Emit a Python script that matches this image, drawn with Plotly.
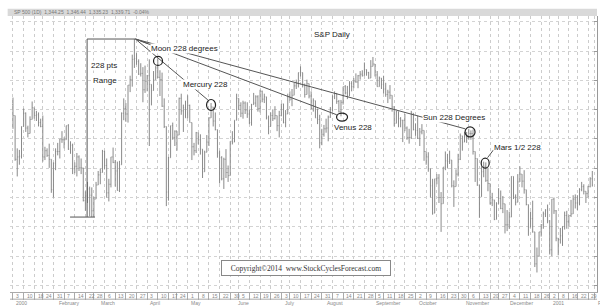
import pandas as pd
import plotly.graph_objects as go

# ---------------- data (S&P 500 daily, Jan 2000 - Jan 2001) ----------------
holidays = ["2000-01-17", "2000-02-21", "2000-04-21", "2000-05-29", "2000-07-04",
            "2000-09-04", "2000-11-23", "2000-12-25", "2001-01-01", "2001-01-15"]
dates = [d for d in pd.bdate_range("2000-01-03", "2001-01-31")
         if d.strftime("%Y-%m-%d") not in holidays]

open_ = [
    1469,1455,1399,1402,1403,1441,1458,1439,1432,1450,1465,1455,1456,1446,1441,1402,1410,1404,1399,1360,
    1394,1409,1409,1425,1424,1424,1442,1412,1417,1387,1390,1402,1388,1388,1346,1352,1361,1353,1333,1348,
    1366,1379,1382,1409,1391,1356,1367,1402,1395,1384,1359,1392,1458,1464,1457,1494,1501,1527,1528,1524,1508,1509,1488,
    1499,1506,1495,1487,1501,1516,1504,1501,1467,1441,1357,1401,1442,1427,1435,1430,1477,1461,1465,
    1452,1468,1446,1415,1410,1433,1424,1412,1383,1408,1421,1452,1466,1448,1437,1407,1401,1374,1399,1382,1378,1422,
    1421,1449,1477,1468,1458,1471,1462,1457,1446,1469,1471,1479,1464,1486,1476,1479,1452,1441,1455,1451,1455,1442,
    1455,1470,1446,1457,1479,1476,1481,1493,1496,1510,1510,1494,1482,1496,1480,1464,1474,1452,1450,1420,
    1431,1438,1439,1453,1463,1479,1483,1473,1460,1472,1492,1484,1480,1496,1492,1499,1498,1506,1508,1506,1514,1510,1503,
    1518,1521,1507,1492,1503,1495,1489,1482,1485,1481,1466,1445,1460,1451,1449,1449,1439,1427,1427,1458,
    1437,1436,1426,1434,1436,1409,1402,1387,1365,1330,1374,1375,1350,1342,1389,1397,1396,1398,1365,1364,1380,1399,
    1429,1421,1428,1427,1432,1432,1409,1400,1366,1351,1383,1390,1372,1368,1343,1347,1322,1342,1349,1336,1342,
    1315,1315,1325,1377,1351,1344,1370,1380,1371,1360,1341,1312,1323,1306,1265,1275,1306,1315,1329,1334,
    1320,1283,1348,1333,1298,1296,1301,1313,1327,1319,1327,1329,1348,1343,1343,1360,1364,1358,1355,1364,1374,
]
high = [
    1478,1455,1413,1411,1441,1464,1459,1442,1454,1473,1465,1461,1459,1451,1455,1415,1413,1419,1399,1395,
    1413,1420,1425,1435,1427,1442,1444,1422,1419,1395,1407,1404,1400,1388,1358,1370,1364,1363,1351,1370,
    1384,1387,1411,1410,1400,1374,1402,1414,1398,1396,1397,1459,1477,1471,1494,1506,1533,1553,1535,1527,1522,1517,1519,
    1507,1527,1495,1512,1519,1528,1513,1510,1477,1441,1402,1442,1446,1436,1435,1478,1483,1469,1474,
    1481,1469,1446,1420,1434,1433,1431,1412,1410,1430,1453,1471,1466,1459,1437,1410,1403,1401,1412,1391,1422,1435,
    1449,1483,1477,1472,1474,1473,1472,1463,1470,1484,1481,1481,1488,1487,1483,1479,1455,1459,1463,1467,1455,1461,
    1470,1470,1462,1483,1486,1489,1497,1501,1510,1518,1510,1496,1501,1496,1486,1477,1474,1464,1456,1438,
    1443,1451,1455,1466,1481,1486,1484,1475,1475,1492,1494,1493,1499,1499,1503,1509,1507,1512,1513,1523,1514,1511,1526,
    1530,1521,1512,1505,1503,1506,1497,1488,1494,1481,1467,1461,1460,1453,1449,1457,1441,1438,1461,1458,
    1445,1455,1439,1444,1436,1409,1408,1387,1374,1374,1380,1380,1357,1389,1409,1406,1410,1398,1372,1386,1406,1432,
    1429,1434,1434,1438,1436,1437,1409,1400,1366,1390,1396,1395,1388,1368,1356,1347,1344,1362,1359,1352,1342,
    1334,1332,1377,1377,1354,1380,1390,1380,1385,1360,1341,1332,1346,1306,1286,1306,1316,1332,1335,1341,
    1321,1348,1350,1334,1298,1311,1313,1332,1333,1327,1347,1353,1354,1353,1362,1370,1367,1358,1365,1376,1384,
]
low = [
    1438,1397,1377,1392,1400,1441,1434,1427,1432,1450,1451,1448,1441,1440,1396,1398,1402,1388,1356,1350,
    1385,1404,1400,1420,1413,1424,1411,1406,1380,1381,1377,1384,1380,1345,1333,1343,1326,1325,1325,1348,
    1366,1367,1382,1386,1350,1345,1363,1394,1364,1359,1357,1392,1449,1447,1446,1485,1492,1516,1520,1507,1505,1472,1484,
    1486,1416,1468,1487,1501,1503,1480,1466,1439,1339,1346,1401,1424,1416,1410,1430,1456,1434,1452,
    1452,1446,1398,1404,1407,1418,1405,1375,1383,1408,1416,1452,1441,1436,1401,1368,1372,1361,1375,1370,1378,1418,
    1421,1449,1462,1453,1451,1457,1452,1444,1442,1469,1466,1460,1459,1472,1471,1450,1431,1441,1448,1450,1435,1427,
    1454,1445,1440,1457,1474,1467,1481,1489,1491,1505,1491,1478,1482,1477,1463,1460,1452,1444,1413,1417,
    1428,1433,1422,1452,1460,1476,1470,1459,1454,1469,1482,1476,1480,1486,1490,1497,1490,1501,1505,1506,1506,1502,1503,
    1518,1505,1492,1492,1489,1483,1479,1471,1476,1460,1441,1445,1440,1440,1421,1435,1424,1419,1425,1436,
    1429,1425,1416,1431,1397,1392,1383,1350,1328,1330,1367,1343,1306,1342,1385,1388,1393,1363,1338,1364,1377,1398,
    1410,1421,1420,1424,1424,1405,1370,1365,1324,1351,1376,1370,1358,1341,1339,1321,1322,1342,1335,1330,1304,
    1307,1310,1325,1348,1340,1344,1370,1363,1355,1340,1301,1312,1305,1261,1254,1275,1300,1310,1325,1317,
    1277,1275,1329,1294,1276,1291,1288,1309,1310,1313,1325,1329,1336,1334,1340,1358,1354,1343,1350,1363,1364,
]
close = [
    1455,1399,1402,1403,1441,1458,1439,1432,1450,1465,1455,1456,1446,1441,1402,1410,1404,1399,1360,1394,
    1409,1409,1425,1424,1424,1442,1412,1417,1387,1390,1402,1388,1388,1346,1352,1361,1353,1333,1348,1366,
    1379,1382,1409,1391,1356,1367,1402,1395,1384,1359,1392,1458,1464,1457,1494,1501,1527,1528,1524,1508,1509,1488,1499,
    1506,1495,1487,1501,1516,1504,1501,1467,1441,1357,1401,1442,1427,1435,1430,1477,1461,1465,1452,
    1468,1446,1415,1410,1433,1424,1412,1383,1408,1421,1452,1466,1448,1437,1407,1401,1374,1399,1382,1378,1422,1421,
    1449,1477,1468,1458,1471,1462,1457,1446,1469,1471,1479,1464,1486,1476,1479,1452,1441,1455,1451,1455,1442,1455,
    1470,1446,1457,1479,1476,1481,1493,1496,1510,1510,1494,1482,1496,1480,1464,1474,1452,1450,1420,1431,
    1438,1439,1453,1463,1479,1483,1473,1460,1472,1492,1484,1480,1496,1492,1499,1498,1506,1508,1506,1514,1510,1503,1518,
    1521,1507,1492,1503,1495,1489,1482,1485,1481,1466,1445,1460,1451,1449,1449,1439,1427,1427,1458,1437,
    1436,1426,1434,1436,1409,1402,1387,1365,1330,1374,1375,1350,1342,1389,1397,1396,1398,1365,1364,1380,1399,1429,
    1421,1428,1427,1432,1432,1409,1400,1366,1351,1383,1390,1372,1368,1343,1347,1322,1342,1349,1336,1342,1315,
    1315,1325,1377,1351,1344,1370,1380,1371,1360,1341,1312,1323,1306,1265,1275,1306,1315,1329,1334,1320,
    1283,1348,1333,1298,1296,1301,1313,1327,1319,1327,1329,1348,1343,1343,1360,1364,1358,1355,1364,1374,1366,
]
assert len(dates) == len(open_) == len(high) == len(low) == len(close)

# annotation labels (text, x index, price)
labels = [
    ("Moon 228 degrees", 64.3, 1541.5),
    ("Mercury 228", 79.4, 1495.4),
    ("S&P Daily", 140.9, 1559.4),
    ("228 pts", 36.2, 1518.5),
    ("Range", 37.1, 1500.5),
    ("Venus 228", 150.3, 1440.3),
    ("Sun 228 Degrees", 192.1, 1453.1),
    ("Mars 1/2 228", 225.4, 1414.7),
]
# circled turning points (x index, price, width px, height px)
circles = [(68.1, 1525, 9, 9), (93.0, 1468.5, 9, 11), (154.5, 1453, 11, 8),
           (214.6, 1434, 10, 10), (221.7, 1394, 8, 10)]
fan_origin = (57.5, max(high))
fan_ends = [(63.5, 1547), (91.5, 1475), (152.0, 1456), (212.3, 1438)]

n = len(dates)
xs = list(range(n))

fig = go.Figure(go.Ohlc(
    x=xs, open=open_, high=high, low=low, close=close,
    increasing=dict(line=dict(color="#8a8a8a", width=1)),
    decreasing=dict(line=dict(color="#8a8a8a", width=1)),
    tickwidth=0.3, hoverinfo="skip",
))

# week ticks and month labels
tickvals, ticktext = [], []
month_pos = []
for i, d in enumerate(dates):
    if i == 0 or d.weekday() < dates[i - 1].weekday():
        tickvals.append(i)
        ticktext.append(str(d.day))
    if i == 0 or d.month != dates[i - 1].month:
        month_pos.append((i, str(d.year) if d.month == 1 else d.strftime("%B")))
tickvals.append(n)
ticktext.append("")
month_pos.append((n, "F"))

annotations = []
for v, t in zip(tickvals, ticktext):
    annotations.append(dict(x=v + 0.6, y=-0.013, xref="x", yref="paper", text=t, showarrow=False,
                            xanchor="left", yanchor="middle",
                            font=dict(size=5, color="#888", family="Liberation Sans")))
for v, t in month_pos:
    annotations.append(dict(x=v + 0.6, y=-0.04, xref="x", yref="paper", text=t, showarrow=False,
                            xanchor="left", yanchor="middle",
                            font=dict(size=5, color="#888", family="Liberation Sans")))
for t, x, y in labels:
    annotations.append(dict(x=x, y=y, text=t, showarrow=False, xanchor="left", yanchor="middle",
                            bgcolor="white", borderpad=0,
                            font=dict(size=8, color="#222", family="Liberation Sans")))
annotations.append(dict(x=137.6, y=1259.7, text="Copyright©2014  www.StockCyclesForecast.com",
                        showarrow=False, font=dict(size=7.5, color="#333", family="Liberation Serif"),
                        bordercolor="#888", borderwidth=1, bgcolor="white", width=166, height=12))
annotations.append(dict(x=0.003, y=1.013, xref="paper", yref="paper", xanchor="left", yanchor="middle",
                        text="SP 500 (1D)  1,344.25  1,346.44  1,335.23  1,339.71  -0.04%",
                        showarrow=False, font=dict(size=5, color="#777", family="Liberation Sans")))

shapes = []
# header band
shapes.append(dict(type="rect", xref="paper", yref="paper", x0=-0.004, x1=1.0, y0=1.0, y1=1.026,
                   fillcolor="#d9d9d9", line=dict(width=0), layer="below"))
# tick strip bottom line
shapes.append(dict(type="line", xref="paper", yref="paper", x0=0, x1=1, y0=-0.026, y1=-0.026,
                   line=dict(color="#aaa", width=1)))
# range box
top = max(high)
bot = min(low[:60])
lc = dict(color="#555", width=1)
shapes.append(dict(type="line", x0=34.8, x1=34.8, y0=bot, y1=top, line=lc))
shapes.append(dict(type="line", x0=34.8, x1=57.3, y0=top, y1=top, line=lc))
shapes.append(dict(type="line", x0=26.8, x1=38.5, y0=bot, y1=bot, line=lc))
# fan lines
for ex, ey in fan_ends:
    shapes.append(dict(type="line", x0=fan_origin[0], y0=fan_origin[1], x1=ex, y1=ey, line=lc))
shapes.append(dict(type="line", x0=222.8, y0=1401, x1=225.6, y1=1411, line=lc))
# circles
for cx, cy, w, h in circles:
    shapes.append(dict(type="circle", xsizemode="pixel", ysizemode="pixel", xanchor=cx, yanchor=cy,
                       x0=-w / 2, x1=w / 2, y0=-h / 2, y1=h / 2, line=dict(color="#222", width=1.2)))

fig.update_layout(
    width=600, height=308, margin=dict(l=10, r=3, t=16, b=16),
    paper_bgcolor="white", plot_bgcolor="white", showlegend=False,
    annotations=annotations, shapes=shapes,
    xaxis=dict(range=[-1.4, 274.2], tickvals=tickvals, ticktext=ticktext, showticklabels=False,
               ticks="outside", ticklen=7, tickcolor="#aaa", showline=True, linecolor="#aaa",
               showgrid=True, gridcolor="#cccccc", griddash="dot", gridwidth=1,
               rangeslider=dict(visible=False), zeroline=False),
    yaxis=dict(range=[1229, 1582.5], side="right", showticklabels=False, showgrid=True,
               gridcolor="#d3d3d3", griddash="dot", tick0=1350, dtick=37.5,
               showline=True, linecolor="#999", ticks="inside", ticklen=3, tickcolor="#999",
               zeroline=False),
)

fig.write_html("out.html")
